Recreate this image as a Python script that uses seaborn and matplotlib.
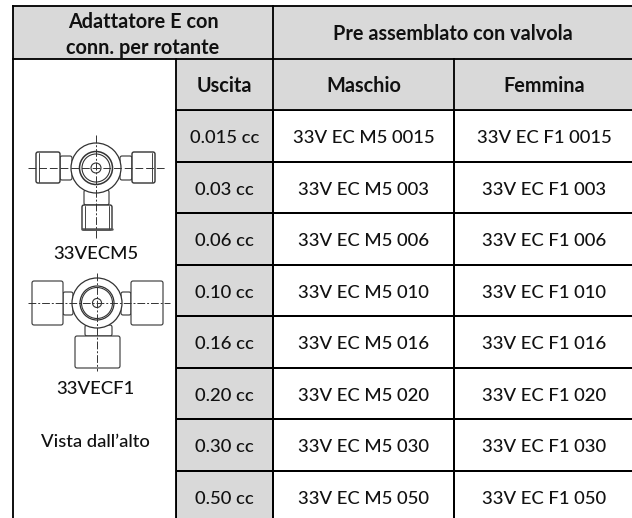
import numpy as np
import pandas as pd
import seaborn as sns
import matplotlib.pyplot as plt
from matplotlib.patches import Circle, Rectangle, FancyBboxPatch

uscite = ['0.015 cc', '0.03 cc', '0.06 cc', '0.10 cc', '0.16 cc', '0.20 cc', '0.30 cc', '0.50 cc']
maschio = ['33V EC M5 0015', '33V EC M5 003', '33V EC M5 006', '33V EC M5 010',
           '33V EC M5 016', '33V EC M5 020', '33V EC M5 030', '33V EC M5 050']
femmina = ['33V EC F1 0015', '33V EC F1 003', '33V EC F1 006', '33V EC F1 010',
           '33V EC F1 016', '33V EC F1 020', '33V EC F1 030', '33V EC F1 050']
colonne = ['Uscita', 'Maschio', 'Femmina']

W, H = 632, 518
GRIGIO = '#d9d9d9'
NERO = '#111111'
LW = 1.15

sns.set_theme(style='white')
plt.rcParams['font.family'] = ['Lato', 'DejaVu Sans']
FS = 13.3
FSB = 14.3
PESO = 500

fig = plt.figure(figsize=(W / 100, H / 100), dpi=100, facecolor='white')

# assi di sfondo in pixel
ax = fig.add_axes([0, 0, 1, 1])
ax.set_xlim(0, W)
ax.set_ylim(H, 0)
ax.axis('off')

# corpo della tabella con heatmap
X = [176, 273, 454, 634]
Y0, Y1 = 110, 522

for i, (testi, colore) in enumerate([(uscite, GRIGIO), (maschio, 'white'), (femmina, 'white')]):
    a = fig.add_axes([X[i] / W, 1 - Y1 / H, (X[i + 1] - X[i]) / W, (Y1 - Y0) / H])
    annot = pd.DataFrame({colonne[i]: testi}).values
    sns.heatmap(np.ones((8, 1)), ax=a, annot=annot, fmt='', cbar=False, cmap=[colore],
                linewidths=LW, linecolor='black',
                annot_kws={'color': NERO, 'fontsize': FS, 'fontweight': PESO})
    for t in a.texts:
        xt, yt = t.get_position()
        t.set_position((xt, yt + 0.05))
    a.axis('off')

# intestazioni
ax.add_patch(Rectangle((13, 6), W - 13, 53, fc=GRIGIO, ec='none'))
ax.add_patch(Rectangle((176, 59), W - 176, 51, fc=GRIGIO, ec='none'))
ax.set_zorder(5)
ax.patch.set_visible(False)
for xa, ya, xb, yb in [(13, 6, W, 6), (13, 59, W, 59), (176, 110, W, 110),
                       (13, 6, 13, H), (273, 6, 273, 110), (176, 59, 176, H),
                       (454, 59, 454, 110)]:
    ax.plot([xa, xb], [ya, yb], color='black', lw=LW * 1.15, solid_capstyle='projecting')

ax.text(143, 22, 'Adattatore E con', ha='center', va='center', fontsize=FSB, fontweight='bold', color=NERO)
ax.text(143, 48, 'conn. per rotante', ha='center', va='center', fontsize=FSB, fontweight='bold', color=NERO)
ax.text(453, 34, 'Pre assemblato con valvola', ha='center', va='center', fontsize=FSB, fontweight='bold', color=NERO)
for xc, nome in zip([224.5, 363.5, 544], colonne):
    ax.text(xc, 86, nome, ha='center', va='center', fontsize=FSB, fontweight='bold', color=NERO)

ax.text(96, 254, '33VECM5', ha='center', va='center', fontsize=FS, fontweight=PESO, color=NERO)
ax.text(95, 389, '33VECF1', ha='center', va='center', fontsize=FS, fontweight=PESO, color=NERO)
ax.text(95, 442, 'Vista dall\u2019alto', ha='center', va='center', fontsize=FS, fontweight=PESO, color=NERO)


def bordo(x0, y0, x1, y1, lw=0.8):
    ax.add_patch(FancyBboxPatch((x0, y0), x1 - x0, y1 - y0, boxstyle='round,pad=0,rounding_size=2',
                                fc='white', ec='#333333', lw=lw, zorder=3))


# disegno 33VECM5
cx, cy = 96, 168
bordo(60, 156, 72, 180)
bordo(120, 156, 132, 180)
bordo(84, 190, 109, 205)
for x0, x1 in [(36, 60), (132, 155)]:
    bordo(x0, 152, x1, 183, lw=1.0)
bordo(82, 205, 112, 230, lw=1.0)
ax.plot([82, 112], [229, 229], color='#555555', lw=1.8, zorder=4)
for x in [39, 152]:
    ax.plot([x, x], [153, 182], color='#444444', lw=0.7, zorder=4)
for x in [85, 109]:
    ax.plot([x, x], [206, 229], color='#444444', lw=0.7, zorder=4)
for r, lw in [(25, 0.9), (16.5, 1.1), (14, 0.8), (5, 0.8)]:
    ax.add_patch(Circle((cx, cy), r, fc='white', ec='#333333', lw=lw, zorder=5))
ax.plot([28, 166], [cy, cy], color='#333333', lw=0.7, dashes=(8, 3), zorder=6)
ax.plot([cx, cx], [135, 238], color='#333333', lw=0.7, dashes=(8, 2, 2, 2), zorder=6)

# disegno 33VECF1
cx, cy = 97, 303
bordo(63, 292, 73, 315)
bordo(121, 292, 131, 315)
bordo(85, 325, 112, 336)
bordo(32, 281, 63, 325)
bordo(131, 281, 163, 325)
bordo(75, 336, 120, 368)
for r, lw in [(25, 0.9), (17, 0.9), (15.5, 0.8), (4.5, 0.8)]:
    ax.add_patch(Circle((cx, cy), r, fc='white', ec='#333333', lw=lw, zorder=5))
ax.plot([28, 170], [cy, cy], color='#333333', lw=0.7, dashes=(8, 2, 2, 2), zorder=6)
ax.plot([cx, cx], [273, 371], color='#333333', lw=0.7, dashes=(8, 2, 2, 2), zorder=6)

fig.savefig('out.png', dpi=100)
